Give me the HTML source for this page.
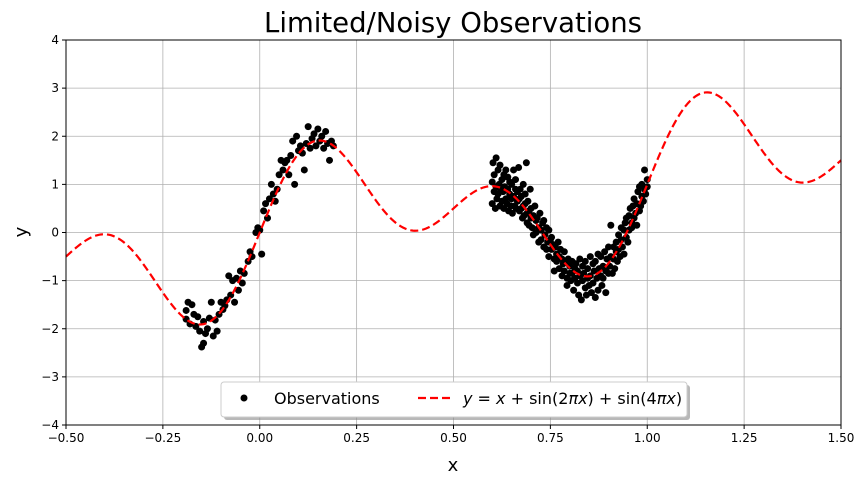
<!DOCTYPE html>
<html><head><meta charset="utf-8"><style>
body{margin:0;background:#fff;font-family:"Liberation Sans","DejaVu Sans",sans-serif}
svg text{font-family:"DejaVu Sans","Liberation Sans",sans-serif}
</style></head><body>
<svg id="chart" width="866" height="484" xmlns="http://www.w3.org/2000/svg">
<rect width="866" height="484" fill="#fff"/>
<text x="453" y="32" font-size="27.5" text-anchor="middle" font-family="Liberation Sans, sans-serif">Limited/Noisy Observations</text>
<g id="grid"></g>
<g id="ticks"></g>
<g id="plot"></g>
<rect x="66" y="40" width="775" height="385" fill="none" stroke="#000" stroke-width="1"/>
<text x="453" y="471" font-size="18" text-anchor="middle">x</text>
<text transform="translate(27,232) rotate(-90)" font-size="18" text-anchor="middle">y</text>
<g>
<rect x="224" y="385" width="466" height="35" rx="3" fill="#888" opacity="0.6"/>
<rect x="221" y="382" width="466" height="35" rx="3" fill="#fff" stroke="#ccc"/>
<circle cx="244" cy="398" r="3.5" fill="#000"/>
<text x="274" y="404" font-size="16">Observations</text>
<line x1="418" y1="398" x2="451" y2="398" stroke="#f00" stroke-width="2.2" stroke-dasharray="8,4"/>
<text x="463" y="404" font-size="16"><tspan font-style="italic">y</tspan> = <tspan font-style="italic">x</tspan> + sin(2<tspan font-style="italic">πx</tspan>) + sin(4<tspan font-style="italic">πx</tspan>)</text>
</g>
</svg>
<script>
const xTicks=[-0.5,-0.25,0,0.25,0.5,0.75,1,1.25,1.5];
const xTickLabels=["−0.50","−0.25","0.00","0.25","0.50","0.75","1.00","1.25","1.50"];
const yTicks=[-4,-3,-2,-1,0,1,2,3,4];
const yTickLabels=["−4","−3","−2","−1","0","1","2","3","4"];
const obsX=[-0.19,-0.19,-0.185,-0.18,-0.175,-0.17,-0.165,-0.16,-0.155,-0.15,-0.145,-0.145,-0.14,-0.135,-0.13,-0.125,-0.12,-0.115,-0.11,-0.105,-0.1,-0.095,-0.09,-0.085,-0.08,-0.075,-0.07,-0.065,-0.06,-0.055,-0.05,-0.045,-0.04,-0.03,-0.025,-0.02,-0.01,-0.005,0,0.005,0.01,0.015,0.02,0.025,0.03,0.035,0.04,0.045,0.05,0.055,0.06,0.065,0.07,0.075,0.08,0.085,0.09,0.095,0.1,0.105,0.11,0.115,0.12,0.125,0.13,0.135,0.14,0.145,0.15,0.155,0.16,0.165,0.17,0.175,0.18,0.185,0.19,
0.6,0.6,0.602,0.605,0.605,0.608,0.61,0.61,0.612,0.615,0.615,0.618,0.62,0.62,0.622,0.625,0.625,0.628,0.63,0.63,0.632,0.635,0.635,0.638,0.64,0.64,0.642,0.645,0.645,0.648,0.65,0.65,0.652,0.655,0.655,0.658,0.66,0.66,0.662,0.665,0.665,0.668,0.67,0.67,0.672,0.675,0.675,0.678,0.68,0.68,0.682,0.685,0.685,0.688,0.69,0.69,0.692,0.695,0.695,0.698,0.7,0.7,0.703,0.706,0.706,0.71,0.713,0.713,0.716,0.72,0.72,0.723,0.726,0.726,0.73,0.733,0.733,0.736,0.74,0.74,0.743,0.746,0.746,0.75,0.753,0.753,0.756,0.76,0.76,0.763,0.766,0.766,0.77,0.773,0.773,0.776,0.78,0.78,0.783,0.786,0.786,0.79,0.793,0.793,0.796,0.8,0.8,0.803,0.806,0.806,0.81,0.813,0.813,0.816,0.82,0.82,0.823,0.826,0.826,0.83,0.833,0.833,0.836,0.84,0.84,0.843,0.846,0.846,0.85,0.853,0.853,0.856,0.86,0.86,0.863,0.866,0.866,0.87,0.873,0.873,0.876,0.88,0.88,0.883,0.886,0.886,0.89,0.893,0.893,0.896,0.9,0.9,0.903,0.906,0.906,0.91,0.913,0.913,0.916,0.92,0.92,0.923,0.926,0.926,0.93,0.933,0.933,0.936,0.94,0.94,0.943,0.946,0.946,0.95,0.953,0.953,0.956,0.96,0.96,0.963,0.966,0.966,0.97,0.973,0.973,0.976,0.98,0.98,0.983,0.986,0.986,0.99,0.993,0.993,0.996,1.0,1.0];
const obsY=[-1.62,-1.8,-1.45,-1.9,-1.5,-1.7,-1.95,-1.75,-2.05,-2.38,-2.3,-1.85,-2.1,-2.0,-1.78,-1.45,-2.15,-1.82,-2.05,-1.7,-1.45,-1.6,-1.52,-1.4,-0.9,-1.3,-1.0,-1.45,-0.95,-1.2,-0.8,-1.05,-0.85,-0.6,-0.4,-0.5,0.0,0.1,0.05,-0.45,0.45,0.6,0.3,0.7,1.0,0.8,0.65,0.9,1.2,1.5,1.3,1.45,1.5,1.2,1.6,1.9,1.0,2.0,1.7,1.8,1.65,1.3,1.85,2.2,1.75,1.95,2.05,1.8,2.15,1.9,2.0,1.75,2.1,1.85,1.5,1.9,1.8,
0.6,1.05,1.45,0.85,1.2,0.5,1.55,0.95,0.7,1.3,0.8,1.0,0.55,1.4,0.9,0.65,1.1,0.85,1.2,0.5,0.95,0.7,1.3,0.6,0.9,1.15,0.45,0.8,1.05,0.55,0.7,1.0,0.4,1.3,0.75,0.55,0.9,1.1,0.5,0.65,0.85,1.35,0.45,0.7,0.9,0.5,0.75,0.3,1.0,0.55,0.35,0.8,0.6,1.45,0.4,0.2,0.65,0.45,0.15,0.9,0.3,0.5,0.1,0.35,-0.05,0.55,0.25,0.0,0.3,0.1,-0.2,0.4,0.05,-0.15,0.2,-0.3,0.25,-0.05,0.1,-0.35,-0.2,0.05,-0.5,-0.15,-0.35,-0.1,-0.25,-0.55,-0.8,-0.3,-0.45,-0.6,-0.2,-0.5,-0.75,-0.35,-0.9,-0.55,-0.65,-0.4,-0.8,-0.6,-0.95,-1.1,-0.55,-0.85,-0.7,-1.0,-0.6,-0.85,-1.2,-0.75,-0.95,-0.65,-1.05,-0.8,-1.3,-0.55,-0.9,-1.4,-0.7,-1.0,-0.85,-1.15,-0.6,-1.3,-0.95,-0.75,-1.1,-0.5,-0.9,-1.25,-0.65,-1.05,-0.8,-1.35,-0.6,-0.95,-0.45,-1.2,-0.75,-0.9,-0.5,-1.1,-0.7,-0.95,-0.4,-0.8,-1.25,-0.55,-0.85,-0.3,-0.7,-0.5,0.15,-0.85,-0.55,-0.3,-0.75,-0.4,-0.2,-0.6,-0.35,-0.05,-0.5,-0.15,0.1,-0.3,0.05,-0.45,0.2,-0.1,0.3,-0.2,0.35,0.05,0.5,0.2,0.1,0.55,0.3,0.7,0.4,0.15,0.6,0.85,0.45,0.95,0.55,0.75,1.0,0.65,0.9,1.3,0.8,1.1,0.95,1.2,0.85,0.75];
const X0=-0.5,X1=1.5,Y0=-4,Y1=4,L=66,R=841,T=40,B=425;
const sx=v=>L+(v-X0)/(X1-X0)*(R-L), sy=v=>B-(v-Y0)/(Y1-Y0)*(B-T);
const NS="http://www.w3.org/2000/svg";
function mk(t,a,p){const e=document.createElementNS(NS,t);for(const k in a)e.setAttribute(k,a[k]);p.appendChild(e);return e;}
const grid=document.getElementById('grid'),ticks=document.getElementById('ticks'),plot=document.getElementById('plot');
xTicks.forEach((v,i)=>{const x=sx(v);
 const g=mk('line',{x1:x,x2:x,y1:T,y2:B,stroke:'#b0b0b0','stroke-width':0.8},grid);
 
 
 mk('line',{x1:x,x2:x,y1:B,y2:B+4,stroke:'#000'},ticks);
 const t=mk('text',{x:x,y:B+17,'font-size':12,'text-anchor':'middle'},ticks);t.textContent=xTickLabels[i];
 
 });
yTicks.forEach((v,i)=>{const y=sy(v);
 const g=mk('line',{x1:L,x2:R,y1:y,y2:y,stroke:'#b0b0b0','stroke-width':0.8},grid);
 
 
 mk('line',{x1:L-4,x2:L,y1:y,y2:y,stroke:'#000'},ticks);
 const t=mk('text',{x:L-7,y:y+4,'font-size':12,'text-anchor':'end'},ticks);t.textContent=yTickLabels[i];
 
 });
obsX.forEach((v,i)=>{const c=mk('circle',{cx:sx(v),cy:sy(obsY[i]),r:3.5,fill:'#000'},plot);
 
 });
let d='';for(let i=0;i<=400;i++){const x=X0+(X1-X0)*i/400;const y=x+Math.sin(2*Math.PI*x)+Math.sin(4*Math.PI*x);d+=(i?'L':'M')+sx(x).toFixed(2)+','+sy(y).toFixed(2);}
const ln=mk('path',{d:d,fill:'none',stroke:'#f00','stroke-width':2.2,'stroke-dasharray':'8,4'},plot);


</script>
</body></html>
